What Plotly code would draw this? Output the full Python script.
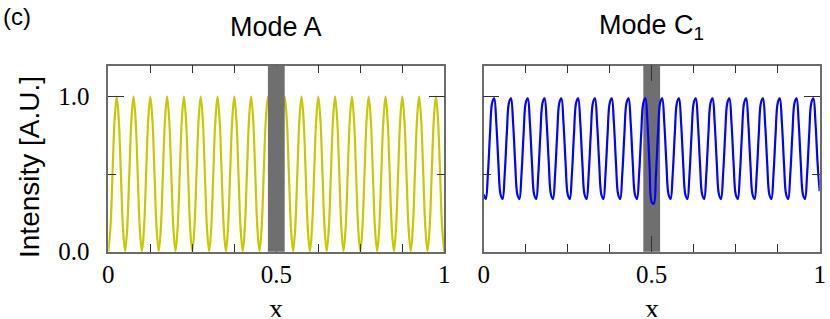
import plotly.graph_objects as go

# ---------------- data ----------------
x_pos = [
    0.0, 0.00625, 0.0125, 0.01875, 0.025, 0.03125, 0.0375, 0.04375,
    0.05, 0.05625, 0.0625, 0.06875, 0.075, 0.08125, 0.0875, 0.09375,
    0.1, 0.10625, 0.1125, 0.11875, 0.125, 0.13125, 0.1375, 0.14375,
    0.15, 0.15625, 0.1625, 0.16875, 0.175, 0.18125, 0.1875, 0.19375,
    0.2, 0.20625, 0.2125, 0.21875, 0.225, 0.23125, 0.2375, 0.24375,
    0.25, 0.25625, 0.2625, 0.26875, 0.275, 0.28125, 0.2875, 0.29375,
    0.3, 0.30625, 0.3125, 0.31875, 0.325, 0.33125, 0.3375, 0.34375,
    0.35, 0.35625, 0.3625, 0.36875, 0.375, 0.38125, 0.3875, 0.39375,
    0.4, 0.40625, 0.4125, 0.41875, 0.425, 0.43125, 0.4375, 0.44375,
    0.45, 0.45625, 0.4625, 0.46875, 0.475, 0.48125, 0.4875, 0.49375,
    0.5, 0.50625, 0.5125, 0.51875, 0.525, 0.53125, 0.5375, 0.54375,
    0.55, 0.55625, 0.5625, 0.56875, 0.575, 0.58125, 0.5875, 0.59375,
    0.6, 0.60625, 0.6125, 0.61875, 0.625, 0.63125, 0.6375, 0.64375,
    0.65, 0.65625, 0.6625, 0.66875, 0.675, 0.68125, 0.6875, 0.69375,
    0.7, 0.70625, 0.7125, 0.71875, 0.725, 0.73125, 0.7375, 0.74375,
    0.75, 0.75625, 0.7625, 0.76875, 0.775, 0.78125, 0.7875, 0.79375,
    0.8, 0.80625, 0.8125, 0.81875, 0.825, 0.83125, 0.8375, 0.84375,
    0.85, 0.85625, 0.8625, 0.86875, 0.875, 0.88125, 0.8875, 0.89375,
    0.9, 0.90625, 0.9125, 0.91875, 0.925, 0.93125, 0.9375, 0.94375,
    0.95, 0.95625, 0.9625, 0.96875, 0.975, 0.98125, 0.9875, 0.99375,
    1.0,
]

mode_a = [
    0.0, 0.15, 0.5, 0.85, 1.0, 0.85, 0.5, 0.15,
    0.0, 0.15, 0.5, 0.85, 1.0, 0.85, 0.5, 0.15,
    0.0, 0.15, 0.5, 0.85, 1.0, 0.85, 0.5, 0.15,
    0.0, 0.15, 0.5, 0.85, 1.0, 0.85, 0.5, 0.15,
    0.0, 0.15, 0.5, 0.85, 1.0, 0.85, 0.5, 0.15,
    0.0, 0.15, 0.5, 0.85, 1.0, 0.85, 0.5, 0.15,
    0.0, 0.15, 0.5, 0.85, 1.0, 0.85, 0.5, 0.15,
    0.0, 0.15, 0.5, 0.85, 1.0, 0.85, 0.5, 0.15,
    0.0, 0.15, 0.5, 0.85, 1.0, 0.85, 0.5, 0.15,
    0.0, 0.15, 0.5, 0.85, 1.0, 0.85, 0.5, 0.15,
    0.0, 0.15, 0.5, 0.85, 1.0, 0.85, 0.5, 0.15,
    0.0, 0.15, 0.5, 0.85, 1.0, 0.85, 0.5, 0.15,
    0.0, 0.15, 0.5, 0.85, 1.0, 0.85, 0.5, 0.15,
    0.0, 0.15, 0.5, 0.85, 1.0, 0.85, 0.5, 0.15,
    0.0, 0.15, 0.5, 0.85, 1.0, 0.85, 0.5, 0.15,
    0.0, 0.15, 0.5, 0.85, 1.0, 0.85, 0.5, 0.15,
    0.0, 0.15, 0.5, 0.85, 1.0, 0.85, 0.5, 0.15,
    0.0, 0.15, 0.5, 0.85, 1.0, 0.85, 0.5, 0.15,
    0.0, 0.15, 0.5, 0.85, 1.0, 0.85, 0.5, 0.15,
    0.0, 0.15, 0.5, 0.85, 1.0, 0.85, 0.5, 0.15,
    0.0,
]

mode_c1 = [
    0.37, 0.34, 0.50, 0.76, 0.96, 0.99, 0.83, 0.57,
    0.37, 0.34, 0.50, 0.76, 0.96, 0.99, 0.83, 0.57,
    0.37, 0.34, 0.50, 0.76, 0.96, 0.99, 0.83, 0.57,
    0.37, 0.34, 0.50, 0.76, 0.96, 0.99, 0.83, 0.57,
    0.37, 0.34, 0.50, 0.76, 0.96, 0.99, 0.83, 0.57,
    0.37, 0.34, 0.50, 0.76, 0.96, 0.99, 0.83, 0.57,
    0.37, 0.34, 0.50, 0.76, 0.96, 0.99, 0.83, 0.57,
    0.37, 0.34, 0.50, 0.76, 0.96, 0.99, 0.83, 0.57,
    0.37, 0.34, 0.50, 0.76, 0.96, 0.99, 0.83, 0.57,
    0.37, 0.34, 0.50, 0.76, 0.96, 0.99, 0.83, 0.55,
    0.32, 0.31, 0.49, 0.76, 0.96, 0.99, 0.83, 0.57,
    0.37, 0.34, 0.50, 0.76, 0.96, 0.99, 0.83, 0.57,
    0.37, 0.34, 0.50, 0.76, 0.96, 0.99, 0.83, 0.57,
    0.37, 0.34, 0.50, 0.76, 0.96, 0.99, 0.83, 0.57,
    0.37, 0.34, 0.50, 0.76, 0.96, 0.99, 0.83, 0.57,
    0.37, 0.34, 0.50, 0.76, 0.96, 0.99, 0.83, 0.57,
    0.37, 0.34, 0.50, 0.76, 0.96, 0.99, 0.83, 0.57,
    0.37, 0.34, 0.50, 0.76, 0.96, 0.99, 0.83, 0.57,
    0.37, 0.34, 0.50, 0.76, 0.96, 0.99, 0.83, 0.57,
    0.37, 0.34, 0.50, 0.76, 0.96, 0.99, 0.83, 0.57,
    0.39,
]

band_range = [0.475, 0.525]
panel_titles = ["Mode A", "Mode C<sub>1</sub>"]
y_tick_vals = [0.0, 1.0]
y_tick_text = ["0.0", "1.0"]
x_tick_vals = [0, 0.5, 1]
x_tick_text = ["0", "0.5", "1"]

# ---------------- figure ----------------
W, H = 830, 319
SANS = "Liberation Sans, Arial, sans-serif"
SERIF = "Liberation Serif, Times New Roman, serif"
FRAME = "#6b6b6b"
TICK = "#333333"

fig = go.Figure()
fig.add_trace(go.Scatter(x=x_pos, y=mode_a, mode="lines", xaxis="x", yaxis="y",
                         line=dict(color="#c8c800", width=2.2, shape="spline"),
                         showlegend=False, hoverinfo="skip"))
fig.add_trace(go.Scatter(x=x_pos, y=mode_c1, mode="lines", xaxis="x2", yaxis="y2",
                         line=dict(color="#0000ff", width=2.2, shape="spline"),
                         showlegend=False, hoverinfo="skip"))

def px_x(p):
    return p / W

def px_y(p):
    return 1 - p / H

xd1 = [px_x(108.3), px_x(444.3)]
xd2 = [px_x(483.7), px_x(819.7)]
yd = [px_y(251.7), px_y(65.7)]

common_x = dict(range=[0, 1], showgrid=False, zeroline=False, showline=True,
                automargin=False,
                linecolor=FRAME, linewidth=1.5, mirror="ticks",
                ticks="inside", ticklen=16, tickwidth=1.3, tickcolor=TICK,
                tickvals=x_tick_vals, ticktext=x_tick_text,
                tickfont=dict(family=SERIF, size=25, color="black"),
                ticklabelstandoff=0,
                minor=dict(dtick=0.125, tick0=0, ticks="inside", ticklen=8,
                           tickwidth=1.3, tickcolor=TICK, showgrid=False))
common_y = dict(range=[0, 1.2], showgrid=False, zeroline=False, showline=True,
                automargin=False,
                linecolor=FRAME, linewidth=1.5, mirror="ticks",
                ticks="inside", ticklen=16, tickwidth=1.3, tickcolor=TICK,
                tickvals=y_tick_vals, ticktext=y_tick_text,
                tickfont=dict(family=SERIF, size=25, color="black"),
                ticklabelstandoff=12,
                minor=dict(tickvals=[0.5], ticks="inside", ticklen=8,
                           tickwidth=1.3, tickcolor=TICK, showgrid=False))

fig.update_layout(
    width=W, height=H,
    margin=dict(l=0, r=0, t=0, b=0, autoexpand=False),
    paper_bgcolor="white", plot_bgcolor="white",
    xaxis=dict(domain=xd1, anchor="y", **common_x),
    yaxis=dict(domain=yd, anchor="x", **common_y),
    xaxis2=dict(domain=xd2, anchor="y2", **common_x),
    yaxis2=dict(domain=yd, anchor="x2", showticklabels=False, **common_y),
    shapes=[
        dict(type="rect", xref="x", yref="y domain", x0=band_range[0], x1=band_range[1],
             y0=0, y1=1, fillcolor="#6f6f6f", line=dict(width=0), layer="above"),
        dict(type="rect", xref="x2", yref="y2 domain", x0=band_range[0], x1=band_range[1],
             y0=0, y1=1, fillcolor="#6f6f6f", line=dict(width=0), layer="below"),
    ],
    annotations=[
        dict(text="(c)", xref="paper", yref="paper", x=px_x(1), y=px_y(17),
             xanchor="left", yanchor="middle", showarrow=False,
             font=dict(family=SANS, size=24, color="black")),
        dict(text=panel_titles[0], xref="paper", yref="paper", x=px_x(276.3), y=px_y(27),
             xanchor="center", yanchor="middle", showarrow=False,
             font=dict(family=SANS, size=27, color="black")),
        dict(text=panel_titles[1], xref="paper", yref="paper", x=px_x(651.7), y=px_y(27),
             xanchor="center", yanchor="middle", showarrow=False,
             font=dict(family=SANS, size=27, color="black")),
        dict(text="Intensity [A.U.]", xref="paper", yref="paper", x=px_x(29), y=px_y(167),
             xanchor="center", yanchor="middle", textangle=-90, showarrow=False,
             font=dict(family=SANS, size=28, color="black")),
        dict(text="x", xref="paper", yref="paper", x=px_x(276.3), y=0,
             xanchor="center", yanchor="bottom", height=18, valign="middle",
             showarrow=False, font=dict(family=SERIF, size=28, color="black")),
        dict(text="x", xref="paper", yref="paper", x=px_x(651.7), y=0,
             xanchor="center", yanchor="bottom", height=18, valign="middle",
             showarrow=False, font=dict(family=SERIF, size=28, color="black")),
    ],
)

fig.write_html("out.html",
               config={"displayModeBar": False},
               post_script="document.body.style.margin='0px';document.body.style.overflow='hidden';")
